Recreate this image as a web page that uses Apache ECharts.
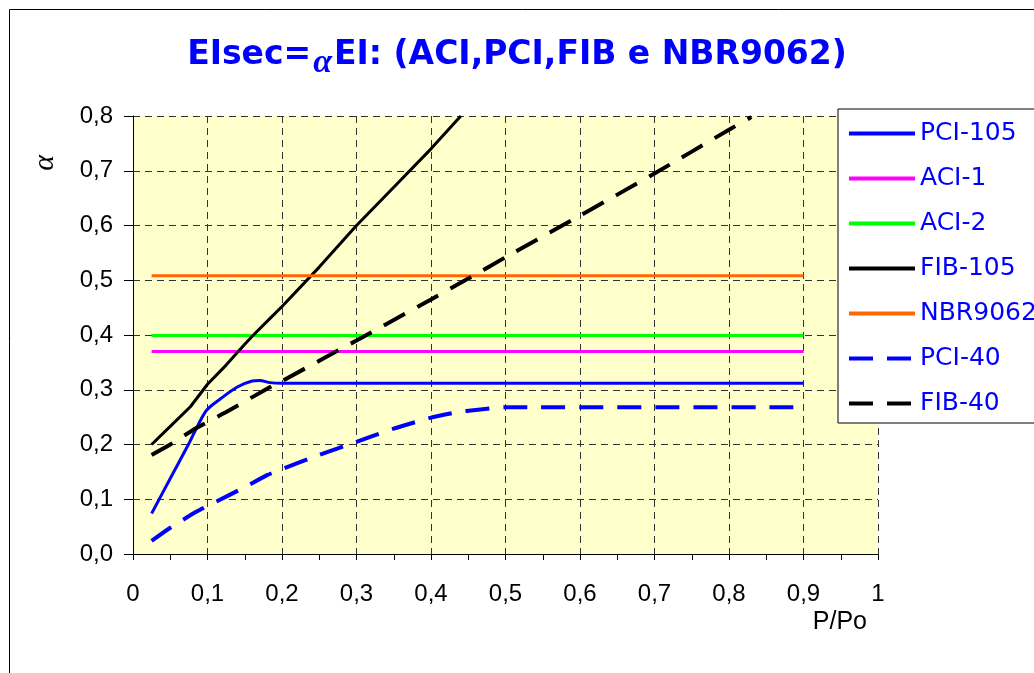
<!DOCTYPE html>
<html>
<head>
<meta charset="utf-8">
<script src="https://cdn.jsdelivr.net/npm/echarts@6/dist/echarts.min.js"></script>
<style>html,body{margin:0;padding:0;background:#fff}#c{width:1034px;height:673px}</style>
</head>
<body>
<div id="c"></div>
<script>
// ---- data ----
const seriesNames = ['PCI-105', 'ACI-1', 'ACI-2', 'FIB-105', 'NBR9062', 'PCI-40', 'FIB-40'];

const pci105X = [0.025, 0.05, 0.074, 0.086, 0.099, 0.117, 0.14, 0.16, 0.17, 0.184, 0.2, 0.3, 0.5, 0.7, 0.9];
const pci105Y = [0.074, 0.138, 0.199, 0.232, 0.263, 0.283, 0.305, 0.316, 0.317, 0.313, 0.312, 0.312, 0.312, 0.312, 0.312];

const aci1X = [0.025, 0.9];
const aci1Y = [0.37, 0.37];

const aci2X = [0.025, 0.9];
const aci2Y = [0.399, 0.399];

const fib105X = [0.025, 0.05, 0.077, 0.1, 0.125, 0.15, 0.161, 0.186, 0.2, 0.25, 0.3, 0.35, 0.4, 0.44];
const fib105Y = [0.200, 0.233, 0.269, 0.310, 0.345, 0.383, 0.399, 0.433, 0.452, 0.524, 0.600, 0.670, 0.740, 0.800];

const nbrX = [0.025, 0.9];
const nbrY = [0.508, 0.508];

const pci40X = [0.025, 0.05, 0.085, 0.112, 0.15, 0.18, 0.2, 0.25, 0.3, 0.35, 0.4, 0.435, 0.46, 0.5, 0.9];
const pci40Y = [0.024, 0.048, 0.077, 0.096, 0.122, 0.144, 0.155, 0.181, 0.205, 0.229, 0.249, 0.259, 0.263, 0.268, 0.268];

const fib40X = [0.025, 0.05, 0.085, 0.13, 0.18, 0.2, 0.3, 0.4, 0.45, 0.5, 0.6, 0.7, 0.8, 0.83];
const fib40Y = [0.181, 0.200, 0.230, 0.263, 0.302, 0.316, 0.390, 0.465, 0.503, 0.542, 0.618, 0.695, 0.775, 0.798];

const xTicks = [0, 0.1, 0.2, 0.3, 0.4, 0.5, 0.6, 0.7, 0.8, 0.9, 1];
const yTicks = [0, 0.1, 0.2, 0.3, 0.4, 0.5, 0.6, 0.7, 0.8];

function pairs(xs, ys) { return xs.map((x, i) => [x, ys[i]]); }

const chart = echarts.init(document.getElementById('c'));

function lineSeries(name, xs, ys, color, width, dash, smooth) {
  return {
    name: name, type: 'line', data: pairs(xs, ys), symbol: 'none', smooth: smooth || false,
    lineStyle: { color: color, width: width, type: dash || 'solid' },
    itemStyle: { color: color }, z: 3, animation: false
  };
}

const option = {
  animation: false,
  backgroundColor: '#ffffff',
  title: {
    text: '{a|EIsec=}{b|α}{a|EI: (ACI,PCI,FIB e NBR9062)}',
    left: 'center', top: 25,
    textStyle: {
      rich: {
        a: { fontFamily: 'DejaVu Sans', fontWeight: 'bold', fontSize: 33, color: '#0000FF' },
        b: { fontFamily: 'Liberation Serif', fontStyle: 'italic', fontSize: 34, color: '#0000FF', padding: [16, 2, 0, 2] }
      }
    }
  },
  grid: { left: 133, top: 116, right: 156, bottom: 119, show: true, backgroundColor: '#FFFFCC', borderWidth: 0 },
  xAxis: {
    type: 'value', min: 0, max: 1, interval: 0.1,
    name: 'P/Po', nameLocation: 'end', nameGap: -11,
    nameTextStyle: { fontFamily: 'Liberation Sans', fontSize: 25, color: '#000', align: 'right', verticalAlign: 'top', padding: [56, 0, 0, 0] },
    axisLine: { show: true, onZero: false, lineStyle: { color: '#000', width: 1 } },
    axisTick: { show: true, length: 6, lineStyle: { color: '#000' } },
    minorTick: { show: true, splitNumber: 2, length: 6, lineStyle: { color: '#000' } },
    axisLabel: {
      fontFamily: 'Liberation Sans', fontSize: 24, color: '#000', margin: 28,
      formatter: v => String(Math.round(v * 10) / 10).replace('.', ',')
    },
    splitLine: { show: true, lineStyle: { color: '#333', width: 1, type: [7, 5] } }
  },
  yAxis: {
    type: 'value', min: 0, max: 0.8, interval: 0.1,
    axisLine: { show: true, onZero: false, lineStyle: { color: '#000', width: 1 } },
    axisTick: { show: true, length: 9, lineStyle: { color: '#000' } },
    axisLabel: {
      fontFamily: 'Liberation Sans', fontSize: 24, color: '#000', margin: 20,
      formatter: v => v.toFixed(1).replace('.', ',')
    },
    splitLine: { show: true, lineStyle: { color: '#333', width: 1, type: [7, 5] } }
  },
  legend: {
    data: seriesNames,
    orient: 'vertical', left: 838, top: 109,
    backgroundColor: '#ffffff', borderColor: '#000', borderWidth: 1,
    padding: [12, 40, 7, 9],
    itemWidth: 66, itemHeight: 24, itemGap: 20,
    itemStyle: { opacity: 0, borderWidth: 0 },
    lineStyle: { width: 4 },
    textStyle: { fontFamily: 'DejaVu Sans', fontSize: 25, color: '#0000FF' },
    selectedMode: false, z: 10
  },
  graphic: [
    { type: 'rect', shape: { x: 9.5, y: 9.5, width: 1200, height: 800 }, style: { fill: null, stroke: '#000', lineWidth: 1 }, z: 100, silent: true },
    { type: 'text', x: 45, y: 163, rotation: Math.PI / 2, style: { text: 'α', font: 'italic 30px "Liberation Serif"', fill: '#000', textAlign: 'center', textVerticalAlign: 'middle' }, z: 50 }
  ],
  series: [
    lineSeries('PCI-105', pci105X, pci105Y, '#0000FF', 3, 'solid', 0.3),
    lineSeries('ACI-1', aci1X, aci1Y, '#FF00FF', 3),
    lineSeries('ACI-2', aci2X, aci2Y, '#00FF00', 3),
    lineSeries('FIB-105', fib105X, fib105Y, '#000000', 3, 'solid', false),
    lineSeries('NBR9062', nbrX, nbrY, '#FF6600', 3),
    lineSeries('PCI-40', pci40X, pci40Y, '#0000FF', 4, [24, 14], 0.2),
    lineSeries('FIB-40', fib40X, fib40Y, '#000000', 4, [24, 14], 0.2)
  ]
};
chart.setOption(option);
</script>
</body>
</html>
